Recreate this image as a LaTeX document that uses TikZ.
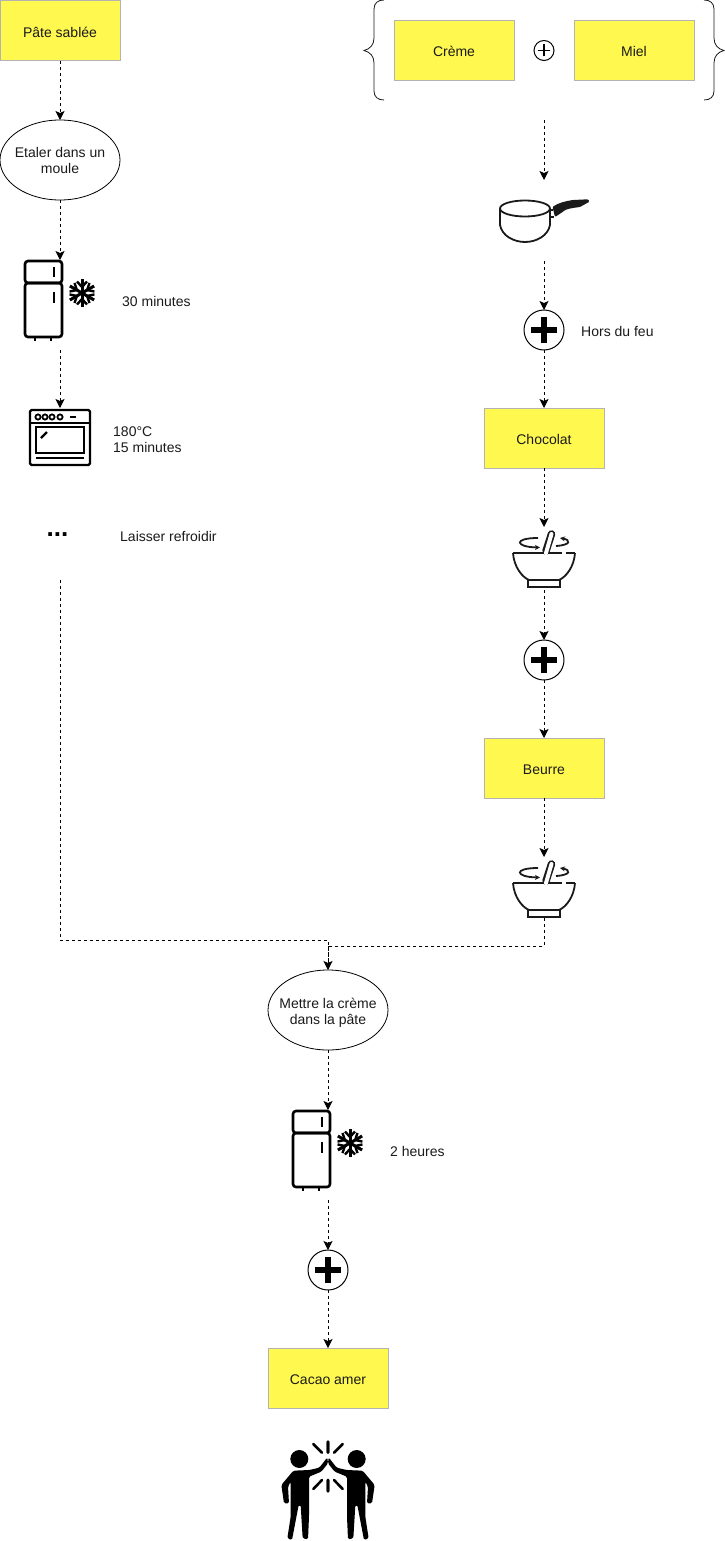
\documentclass[tikz,border=0pt]{standalone}
\usepackage{fontspec}
\setmainfont{Liberation Sans}
\usetikzlibrary{shapes.geometric,arrows.meta}
\definecolor{postit}{HTML}{FFF84F}
\definecolor{postline}{HTML}{B3B3B3}
\definecolor{ink}{HTML}{1A1A1A}

\tikzset{
  ingredient/.style={rectangle,draw=postline,fill=postit,line width=1pt,minimum width=120pt,minimum height=60pt,inner sep=0pt,outer sep=0pt,text=ink,text height=13.5pt,text depth=1pt},
  action/.style={ellipse,draw=black,line width=.8pt,minimum width=120pt,minimum height=80pt,inner xsep=-8pt,inner ysep=0pt,outer sep=0pt,align=center,text=ink},
  note/.style={anchor=west,inner sep=0pt,align=left,text=ink},
  iconbox/.style={rectangle,inner sep=0pt,outer sep=0pt},
  bigplus/.style={circle,draw=black,line width=1pt,minimum size=40pt,inner sep=0pt,outer sep=0pt,
    path picture={
      \draw[line width=6pt] ([xshift=-13pt]path picture bounding box.center) -- ([xshift=13pt]path picture bounding box.center);
      \draw[line width=6pt] ([yshift=-13pt]path picture bounding box.center) -- ([yshift=13pt]path picture bounding box.center);
    }},
  smallplus/.style={circle,draw=black,line width=1pt,minimum size=20pt,inner sep=0pt,outer sep=0pt,
    path picture={
      \draw[line width=1.2pt] ([xshift=-6pt]path picture bounding box.center) -- ([xshift=6pt]path picture bounding box.center);
      \draw[line width=1.2pt] ([yshift=-6pt]path picture bounding box.center) -- ([yshift=6pt]path picture bounding box.center);
    }},
  flow/.style={draw=black,line width=.8pt,dash pattern=on 3pt off 3pt},
  fridgeicon/.pic={
    \draw[line width=2.6pt,rounded corners=3pt] (0,1) rectangle (37,23);
    \draw[line width=2.6pt,rounded corners=3pt] (0,23) rectangle (37,77);
    \draw[line width=2.6pt] (29,7) -- (29,17) (29,32) -- (29,43);
    \draw[line width=2.6pt] (10,77) -- (10,81) (26,77) -- (26,81);
    \foreach \a in {30,90,150,210,270,330} {
      \begin{scope}[shift={(57,33)},rotate=\a]
        \draw[line width=3pt] (0,0) -- (14,0);
        \draw[line width=2.4pt] (11.5,-5) -- (6,0) -- (11.5,5);
      \end{scope}
    }
  },
  ovenicon/.pic={
    \draw[line width=2.4pt,rounded corners=1.5pt] (0,0) rectangle (60,55);
    \draw[line width=2.2pt] (0,13) -- (60,13);
    \foreach \x in {8,15,22,30}
      \draw[line width=1.8pt] (\x,7) circle (2.6pt);
    \draw[line width=2pt] (40,7) -- (46,7);
    \draw[line width=2.2pt] (6,17) rectangle (54,43);
    \draw[line width=2.2pt] (11,28) -- (17,22);
    \draw[line width=2pt] (6,48) -- (54,48);
  },
  panicon/.pic={
    \fill[ink,rounded corners=1pt] (52.5,7) .. controls (58,3) and (66,1) .. (73,0) -- (88,-.7) -- (89.5,1.7) -- (80,7) .. controls (72,8) and (66,9) .. (63,11.7) -- (55,17) -- cycle;
    \draw[ink,line width=1.8pt] (50,10) -- (53,10) (50,17) -- (54,17);
    \draw[ink,line width=1.8pt] (25,8.5) ellipse (25pt and 8pt);
    \draw[ink,line width=1.8pt] (0,8.5) -- (0,25) .. controls (2,36) and (14,42) .. (25,42) .. controls (36,42) and (48,36) .. (50,25) -- (50,8.5);
  },
  bowlicon/.pic={
    \draw[ink,line width=1.8pt] (0,26) -- (49,26) (53,26) -- (62,26);
    \draw[ink,line width=1.8pt] (0,26) .. controls (1,40) and (9,50) .. (16,53) -- (46,53) .. controls (53,50) and (61,40) .. (62,26);
    \draw[ink,line width=1.8pt] (15,53) rectangle (47,60);
    \draw[ink,line width=7.5pt,line cap=round] (33,24) -- (38.5,7);
    \draw[white,line width=4pt,line cap=round] (33,26) -- (38.5,7);
    \draw[ink,line width=1.8pt,-{Stealth[length=5pt,width=5pt]}] (25,11) .. controls (0,11) and (2,20) .. (27,20.5);
    \draw[ink,line width=1.8pt,-{Stealth[length=5pt,width=5pt]}] (43,19) .. controls (58,18) and (58,13) .. (47,11);
  },
  personicon/.pic={
    \begin{scope}[x=.3333pt,y=-.3333pt]
      \fill (-86,87) circle (9pt);
      \fill[rounded corners=1.5pt] (-2,82) -- (-26,113) -- (-56,120) -- (-104,122) -- (-140,165) -- (-132,220) -- (-117,220) -- (-120,170) -- (-112,155)
        -- (-112,260) -- (-122,325) -- (-108,330) -- (-88,225) -- (-82,225) -- (-76,325) -- (-60,328) -- (-57,260) -- (-57,140) -- (-20,125) -- (0,100) -- cycle;
      \draw[line width=2.6pt,line cap=round] (0,35) -- (0,68) (-44,42) -- (-18,68) (0,150) -- (0,184) (-18,150) -- (-44,177);
    \end{scope}
  }
}

\begin{document}
\begin{tikzpicture}[x=1pt,y=-1pt,font=\fontsize{14}{16}\selectfont,>={Stealth[length=9pt,width=9pt,inset=2pt]}]
\useasboundingbox (0,0) rectangle (725,1541);

% left column
\node[ingredient] (pate) at (60,31) {Pâte sablée};
\node[action] (etaler) at (60,160) {\rule{0pt}{12pt}Etaler dans un\\moule};
\node[iconbox,minimum width=80pt,minimum height=90pt] (frigoa) at (60,305) {};
\node[note] (trente) at (122,301) {30 minutes};
\node[iconbox,minimum width=60pt,minimum height=57pt] (four) at (60,436.5) {};
\node[note] (cuisson) at (113,440) {180°C\\15 minutes};
\node[font=\fontsize{26}{26}\selectfont\bfseries,inner sep=0pt] (dots) at (57.5,535) {...};
\node[note] (refroidir) at (120,536) {Laisser refroidir};
\coordinate (dotsend) at (60,580);

% right column
\node[ingredient] (creme) at (454,50.5) {Crème};
\node[smallplus] (plusa) at (544,50.5) {};
\node[ingredient] (miel) at (634,50.5) {Miel};
\node[iconbox,minimum width=340pt,minimum height=120pt] (melange) at (544,60) {};
\node[iconbox,minimum width=90pt,minimum height=81pt] (casserole) at (544,220.5) {};
\node[bigplus] (plusb) at (544,330) {};
\node[note] (horsfeu) at (581,331) {Hors du feu};
\node[ingredient] (chocolat) at (544,438) {Chocolat};
\node[iconbox,minimum width=62pt,minimum height=63pt] (bola) at (544,558.5) {};
\node[bigplus] (plusc) at (544,660) {};
\node[ingredient] (beurre) at (544,768) {Beurre};
\node[iconbox,minimum width=62pt,minimum height=61pt] (bolb) at (544,887.5) {};

% bottom column
\node[action] (mettre) at (328,1010) {\rule{0pt}{16pt}Mettre la crème\\dans la pâte};
\node[iconbox,minimum width=80pt,minimum height=90pt] (frigob) at (328,1155) {};
\node[note] (heures) at (390,1151) {2 heures};
\node[bigplus] (plusd) at (328,1270) {};
\node[ingredient] (cacao) at (328,1378) {Cacao amer};
\node[iconbox,minimum width=94pt,minimum height=100pt] (bravo) at (328,1490) {};
\coordinate (joina) at (328,940);
\coordinate (joinb) at (328,946);

% icons
\pic at (25,260) {fridgeicon};
\pic at (293,1110) {fridgeicon};
\pic at (30,410) {ovenicon};
\pic at (500,200) {panicon};
\pic at (513,527) {bowlicon};
\pic at (513,857) {bowlicon};
\pic at (328,1430) {personicon};
\pic[xscale=-1] at (328,1430) {personicon};

% braces
\draw[ink,line width=.8pt] (384,0) .. controls (378,0) and (374,3) .. (374,9) -- (374,38) .. controls (374,45) and (370,49) .. (364,50.5)
  .. controls (370,52) and (374,56) .. (374,63) -- (374,91) .. controls (374,97) and (378,100) .. (384,100);
\draw[ink,line width=.8pt] (704,0) .. controls (710,0) and (714,3) .. (714,9) -- (714,38) .. controls (714,45) and (718,49) .. (724,50.5)
  .. controls (718,52) and (714,56) .. (714,63) -- (714,91) .. controls (714,97) and (710,100) .. (704,100);

\begin{scope}[every edge/.style={flow}]
    \path [->] (pate) edge (etaler);
    \path [->] (etaler) edge (frigoa);
    \path [->] (frigoa) edge (four);
    \path [->] (melange) edge (casserole);
    \path [->] (casserole) edge (plusb);
    \path [->] (plusb) edge (chocolat);
    \path [->] (chocolat) edge (bola);
    \path [->] (bola) edge (plusc);
    \path [->] (plusc) edge (beurre);
    \path [->] (beurre) edge (bolb);
    \path [->] (mettre) edge (frigob);
    \path [->] (frigob) edge (plusd);
    \path [->] (plusd) edge (cacao);
\end{scope}
\draw[flow] (dotsend) |- (joina) -- (mettre.north);
\draw[flow] (bolb.south) |- (joinb);
\draw[flow,->] (joinb) -- (mettre.north);
\end{tikzpicture}
\end{document}
